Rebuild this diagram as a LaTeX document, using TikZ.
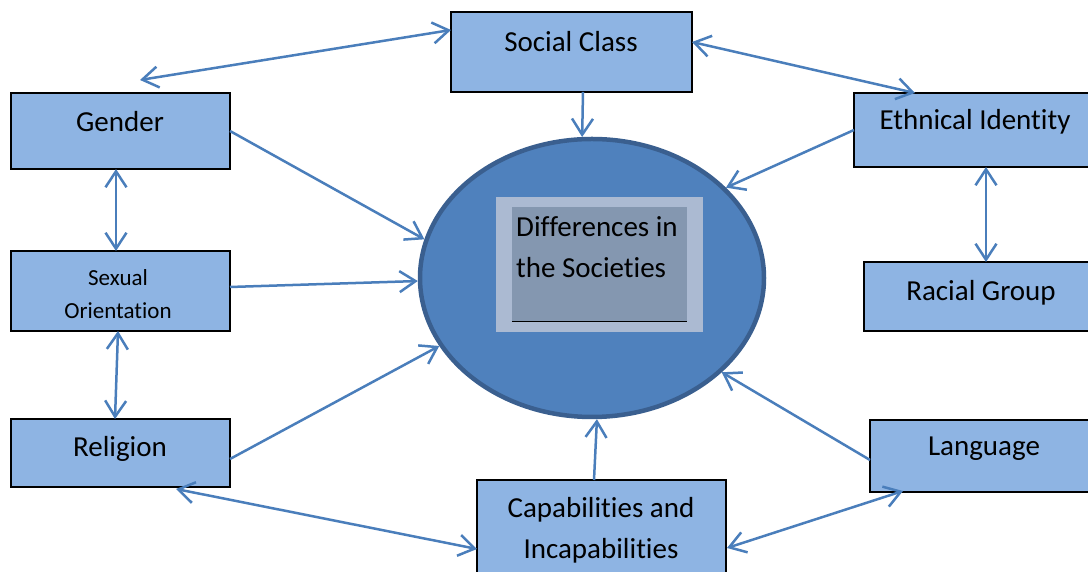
\documentclass[tikz,border=0pt]{standalone}
\usepackage{fontspec}
\setmainfont{Carlito}[Ligatures={NoCommon,NoContextual}]
\usetikzlibrary{arrows.meta,shapes.geometric,calc}
\definecolor{boxfill}{HTML}{8EB4E3}
\definecolor{arr}{HTML}{4A7EBB}
\definecolor{ellfill}{HTML}{4F81BD}
\definecolor{elldraw}{HTML}{3A5F8F}
\definecolor{outerrect}{HTML}{ABBAD2}
\definecolor{innerrect}{HTML}{8497B0}
\begin{document}
\begin{tikzpicture}[x=1pt,y=1pt,
 box/.style={draw=black, line width=1.3pt, fill=boxfill, rectangle, inner sep=0pt, outer sep=0pt},
 lbl/.style={font=\fontsize{29}{41}\selectfont, align=center, inner sep=0pt},
 smalllbl/.style={font=\fontsize{23}{33}\selectfont, align=center, inner sep=0pt},
 tip/.tip={Straight Barb[length=16pt,width=21pt]},
 con/.style={draw=arr, line width=2.5pt, -tip},
 dcon/.style={draw=arr, line width=2.5pt, tip-tip}]
\useasboundingbox (0,0) rectangle (1088,572);
\clip (0,0) rectangle (1088,572);
% boxes
\node[box, minimum width=241, minimum height=80] (sc) at (571.5,520) {};
\node[box, minimum width=219, minimum height=76] (gender) at (120.5,441) {};
\node[box, minimum width=246, minimum height=74] (eth) at (977,442) {};
\node[box, minimum width=219, minimum height=80] (sex) at (120.5,281) {};
\node[box, minimum width=236, minimum height=69] (race) at (982,275.5) {};
\node[box, minimum width=219, minimum height=68] (rel) at (120.5,119) {};
\node[box, minimum width=230, minimum height=72] (lang) at (985,116) {};
\node[box, minimum width=249, minimum height=110] (cap) at (601.5,37) {};
% labels
\node[lbl] (sctxt) at (571,530) {Social Class};
\node[lbl] (gendertxt) at (120,450) {Gender};
\node[lbl] (ethtxt) at (975,450) {Ethnical Identity};
\node[smalllbl] (sextxt) at (118,277.5) {Sexual\\Orientation};
\node[lbl] (racetxt) at (981,279) {Racial Group};
\node[lbl] (reltxt) at (120,123) {Religion};
\node[lbl] (langtxt) at (984,123) {Language};
\node[lbl] (captxt) at (601,42) {Capabilities and\\Incapabilities};
% ellipse
\node[ellipse, draw=elldraw, line width=4.5pt, fill=ellfill, minimum width=344, minimum height=278, inner sep=0pt] (ell) at (592,294) {};
\node[rectangle, fill=outerrect, minimum width=207, minimum height=135, inner sep=0pt] (outer) at (599.5,307.5) {};
\node[rectangle, fill=innerrect, minimum width=175, minimum height=114, inner sep=0pt] (inner) at (599.5,308) {};
\draw[black, line width=1pt] (inner.south west) -- (inner.south east);
\node[lbl, align=left, anchor=west] (difftxt) at (516,325) {Differences in\\the Societies};
% connectors
\draw[dcon] ($(sc.west)+(0,22)$) -- ($(gender.north)+(19.5,13)$);
\draw[dcon] ($(sc.east)+(0,10)$) -- ($(eth.north)+(-62,0)$);
\draw[con] ($(sc.south)+(11.5,0)$) -- (ell.94);
\draw[con] (gender.east) -- (ell.167);
\draw[con] (eth.west) -- (ell.34);
\draw[dcon] ($(gender.south)+(-4.5,0)$) -- ($(sex.north)+(-4.5,0)$);
\draw[con] ($(sex.east)+(0,4)$) -- (ell.181);
\draw[dcon] ($(sex.south)+(-2.5,0)$) -- ($(rel.north)+(-5.5,0)$);
\draw[con] ($(rel.east)+(0,-6)$) -- (ell.204);
\draw[dcon] ($(rel.south)+(55.5,-2)$) -- ($(cap.west)+(0,-14)$);
\draw[con] ($(cap.north)+(-7.5,0)$) -- (ell.272);
\draw[con] ($(lang.west)+(0,-4)$) -- (ell.324);
\draw[dcon] ($(lang.south)+(-82,1)$) -- ($(cap.east)+(1,-13)$);
\draw[dcon] ($(eth.south)+(9,0)$) -- ($(race.north)+(4,0)$);
\end{tikzpicture}
\end{document}
